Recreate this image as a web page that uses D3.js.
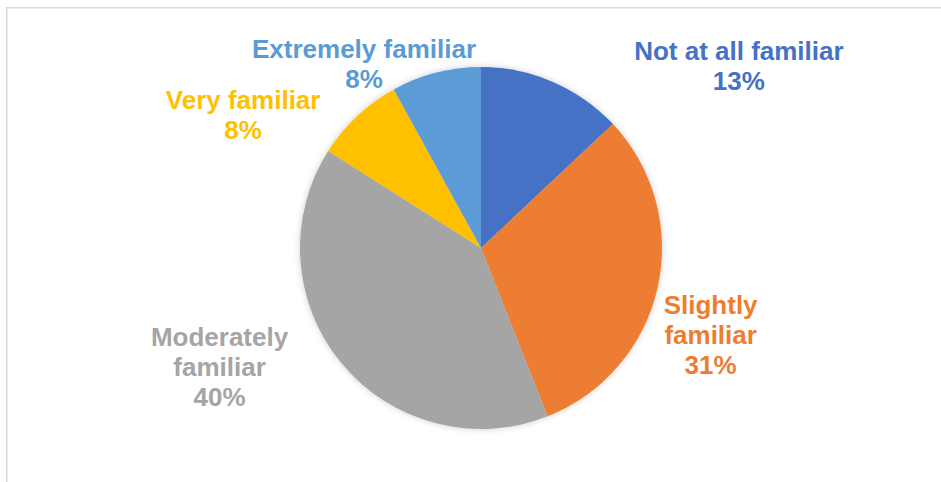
<!DOCTYPE html>
<html>
<head>
<meta charset="utf-8">
<script src="https://cdn.jsdelivr.net/npm/d3@7"></script>
<style>
  body { margin: 0; background: #fff; }
  svg { display: block; }
  .label { font-family: "Liberation Sans", Arial, sans-serif; font-weight: bold; font-size: 26px; }
</style>
</head>
<body>
<script>
// data
var categories = ["Not at all familiar", "Slightly familiar", "Moderately familiar", "Very familiar", "Extremely familiar"];
var values = [13, 31, 40, 8, 8];
var colors = ["#4472C4", "#ED7D31", "#A5A5A5", "#FFC000", "#5B9BD5"];

// how each label is broken into lines, and nudged from the slice's outer edge
var labelLines = [
  ["Not at all familiar"],
  ["Slightly", "familiar"],
  ["Moderately", "familiar"],
  ["Very familiar"],
  ["Extremely familiar"]
];
var labelNudge = [[186, -16], [53, 48], [-122, 4], [-114, -1], [-72, -9]];

var width = 941, height = 482,
    cx = 481, cy = 248, radius = 181,
    lineHeight = 30, capHalf = 9;

var svg = d3.select("body").append("svg")
    .attr("width", width)
    .attr("height", height);

// chart frame (right and bottom edges fall outside the picture)
svg.append("rect")
    .attr("x", 6.75)
    .attr("y", 7.75)
    .attr("width", 2000)
    .attr("height", 2000)
    .attr("fill", "none")
    .attr("stroke", "#d9d9d9")
    .attr("stroke-width", 1.5);

var defs = svg.append("defs");
defs.append("filter")
    .attr("id", "glow")
    .attr("x", "-20%").attr("y", "-20%")
    .attr("width", "140%").attr("height", "140%")
  .append("feDropShadow")
    .attr("dx", 0).attr("dy", 0)
    .attr("stdDeviation", 3)
    .attr("flood-color", "#000")
    .attr("flood-opacity", 0.2);

var data = categories.map(function(c, i) {
  return { name: c, value: values[i], color: colors[i], lines: labelLines[i], nudge: labelNudge[i] };
});

var pie = d3.pie()
    .sort(null)
    .value(function(d) { return d.value; });

var arc = d3.arc()
    .innerRadius(0)
    .outerRadius(radius);

var arcs = pie(data);

var g = svg.append("g")
    .attr("transform", "translate(" + cx + "," + cy + ")");

g.append("g")
    .attr("filter", "url(#glow)")
  .selectAll("path")
  .data(arcs)
  .enter().append("path")
    .attr("d", arc)
    .attr("fill", function(d) { return d.data.color; });

// labels: start from the slice's outer edge at its mid angle
var labels = g.selectAll("text.label")
  .data(arcs)
  .enter().append("text")
    .attr("class", "label")
    .attr("text-anchor", "middle")
    .attr("fill", function(d) { return d.data.color; })
    .each(function(d) {
      var a = (d.startAngle + d.endAngle) / 2;
      var x = Math.sin(a) * radius + d.data.nudge[0];
      var y = -Math.cos(a) * radius + d.data.nudge[1];
      var lines = d.data.lines.concat([d3.format(".0%")(d.value / 100)]);
      var top = y - (lines.length - 1) * lineHeight / 2 + capHalf;
      var t = d3.select(this);
      lines.forEach(function(l, i) {
        t.append("tspan")
            .attr("x", x)
            .attr("y", top + i * lineHeight)
            .text(l);
      });
    });
</script>
</body>
</html>
